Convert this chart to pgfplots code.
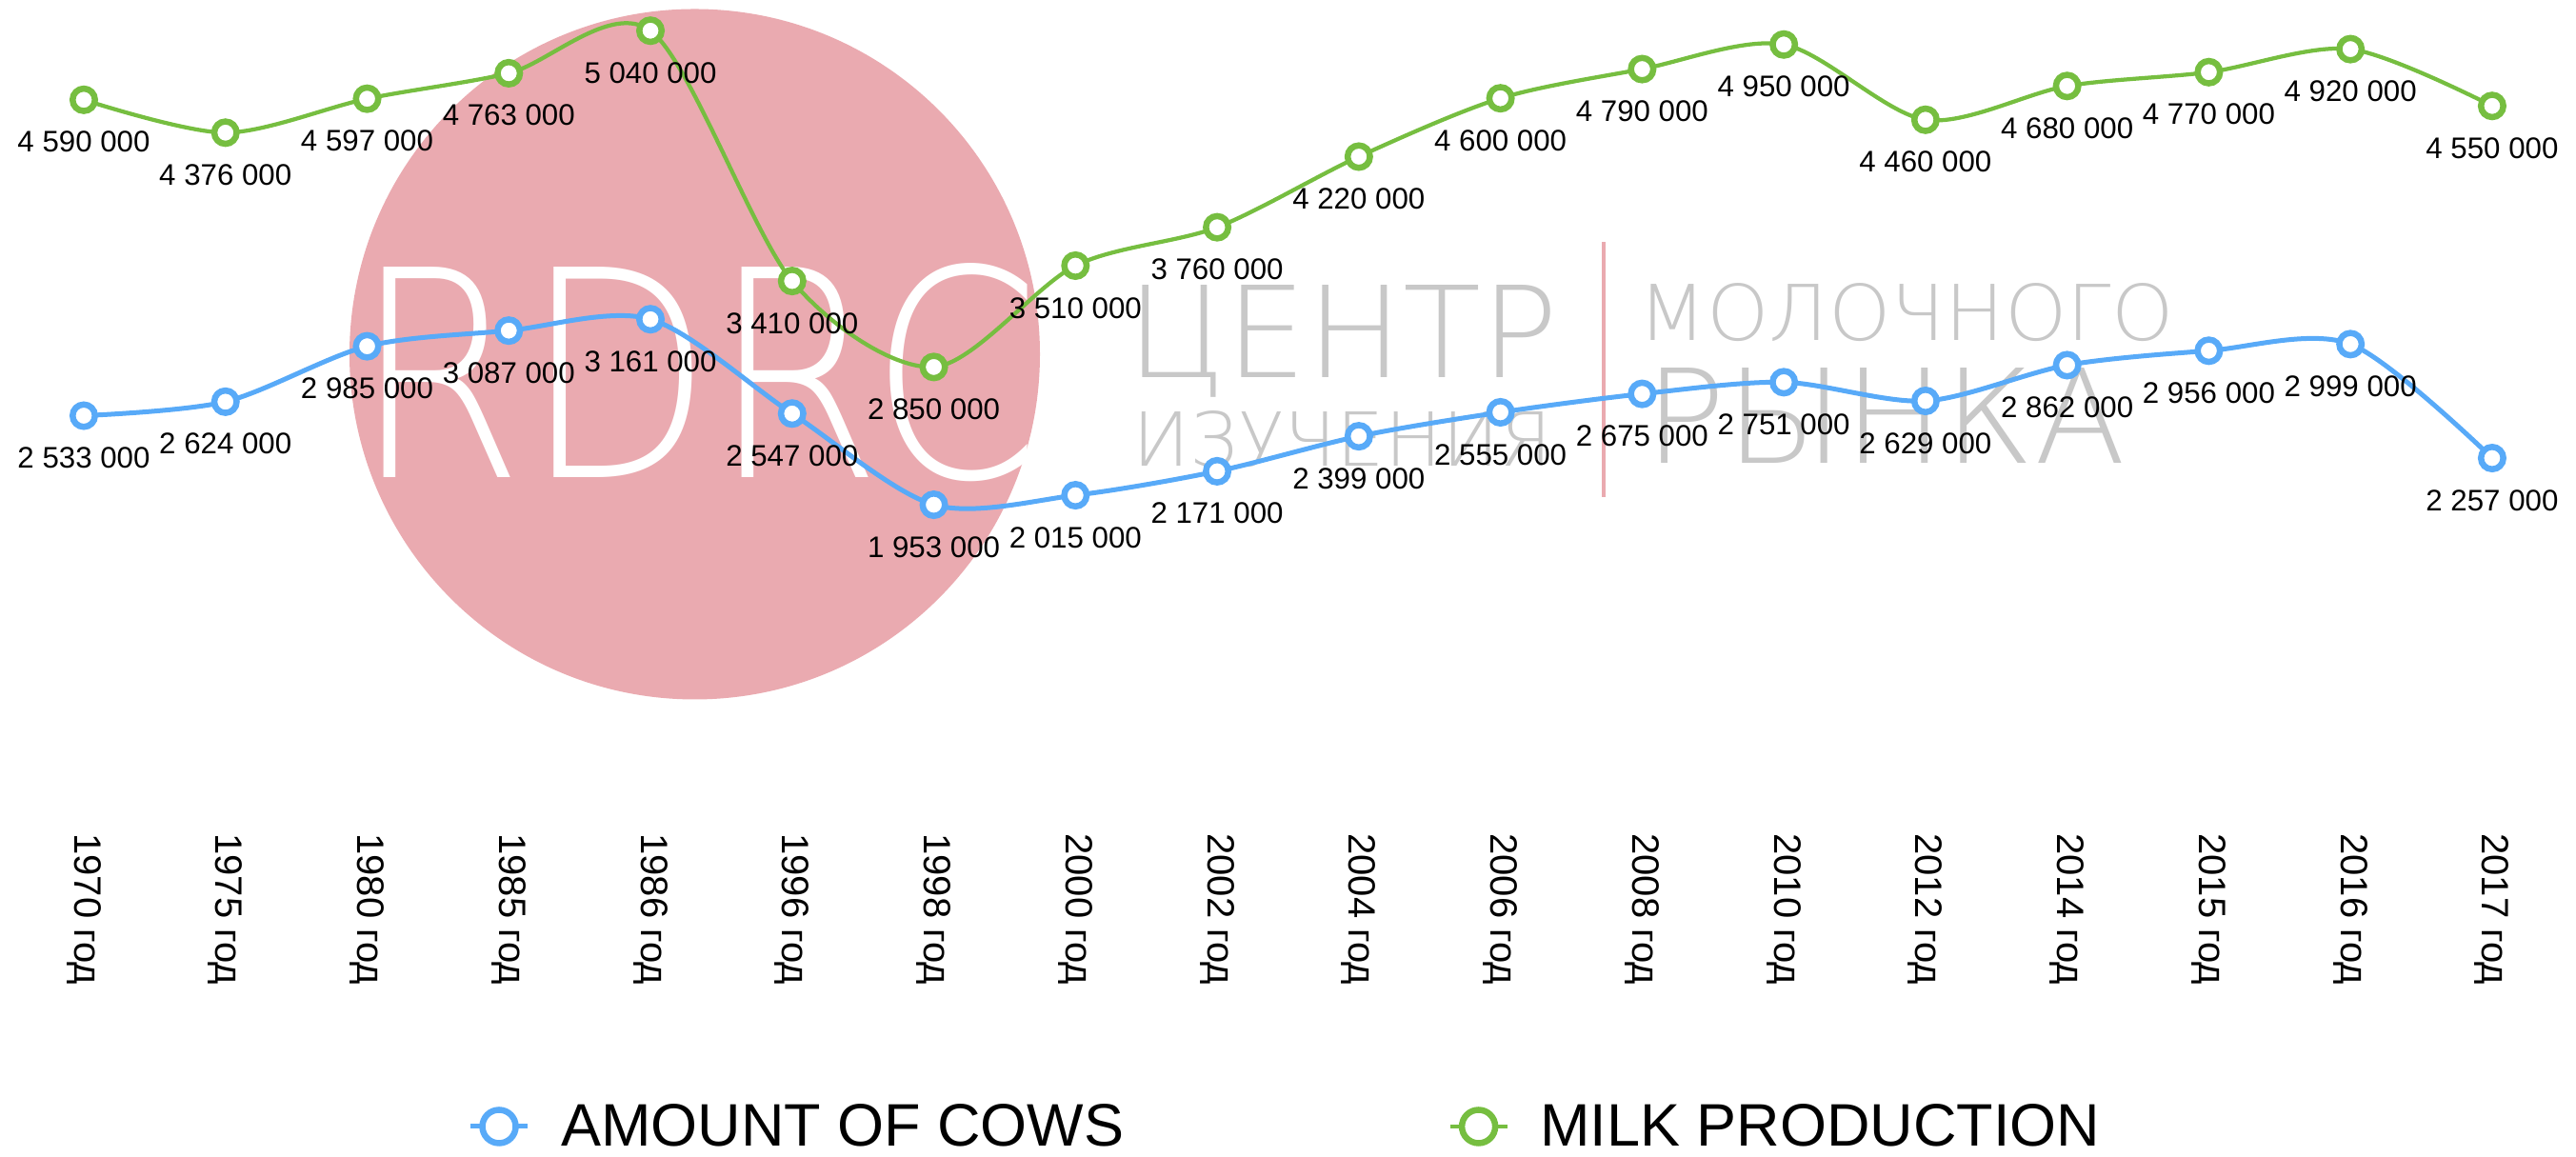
\documentclass[border=0pt]{standalone}
\usepackage{fontspec}
\setmainfont{Liberation Sans}
\IfFontExistsTF{DejaVuSans-ExtraLight.ttf}{\newfontfamily\thinfont{DejaVuSans-ExtraLight.ttf}}{\newfontfamily\thinfont{Liberation Sans}}
\usepackage{graphicx}
\usepackage{pgfplots}
\usepackage{pgfplotstable}
\pgfplotsset{compat=1.18}
\definecolor{cowblue}{HTML}{58AAF8}
\definecolor{milkgreen}{HTML}{76BE40}
\definecolor{wmpink}{HTML}{EAAAB0}
\definecolor{wmgray}{HTML}{C8C8C8}

\pgfplotstableread{
x cows milk
0 2533000 4590000
1 2624000 4376000
2 2985000 4597000
3 3087000 4763000
4 3161000 5040000
5 2547000 3410000
6 1953000 2850000
7 2015000 3510000
8 2171000 3760000
9 2399000 4220000
10 2555000 4600000
11 2675000 4790000
12 2751000 4950000
13 2629000 4460000
14 2862000 4680000
15 2956000 4770000
16 2999000 4920000
17 2257000 4550000
}\data

\begin{document}
\begin{tikzpicture}
\useasboundingbox (0,0) rectangle (1082pt,486pt);
% watermark
\fill[wmpink] (291.8pt,337.2pt) circle (145pt);
\node[anchor=base west, inner sep=0pt, text=white] at (148.4pt,285.2pt) {\resizebox{288.4pt}{90pt}{\thinfont RDRC}};
\node[anchor=base west, inner sep=0pt, text=wmgray] at (473.2pt,327.2pt) {\resizebox{181.2pt}{38.8pt}{\thinfont ЦЕНТР}};
\node[anchor=base west, inner sep=0pt, text=wmgray] at (475.6pt,290pt) {\resizebox{176pt}{23.2pt}{\thinfont ИЗУЧЕНИЯ}};
\node[anchor=base west, inner sep=0pt, text=wmgray] at (688pt,342.8pt) {\resizebox{224.8pt}{24pt}{\thinfont МОЛОЧНОГО}};
\node[anchor=base west, inner sep=0pt, text=wmgray] at (690.8pt,291.2pt) {\resizebox{202pt}{40pt}{\thinfont РЫНКА}};
\draw[wmpink, line width=1.6pt] (673.6pt,277.2pt) -- (673.6pt,384.2pt);

\begin{axis}[
  at={(5.44pt,148pt)}, anchor=south west,
  scale only axis, width=1071.1pt, height=338pt,
  xmin=-0.5, xmax=17.5, ymin=0, ymax=5240000,
  clip=false,
  axis line style={draw=none}, tick style={draw=none}, major tick length=0pt,
  ytick=\empty,
  xtick={0,...,17},
  xticklabels={1970 год,1975 год,1980 год,1985 год,1986 год,1996 год,1998 год,2000 год,2002 год,2004 год,2006 год,2008 год,2010 год,2012 год,2014 год,2015 год,2016 год,2017 год},
  xticklabel style={font=\fontsize{16}{16}\selectfont, rotate=-90, anchor=west, inner sep=0pt},
  xticklabel shift=12pt,
  point meta=rawy,
  nodes near coords={\fontsize{12.5}{12.5}\selectfont\pgfmathprintnumber[fixed,precision=0,1000 sep={\ },assume math mode=true]{\pgfplotspointmeta}},
  nodes near coords align={below},
  every node near coord/.append style={text=black, anchor=north, yshift=-12pt, inner sep=0pt},
  legend columns=2,
  legend style={draw=none, fill=none, at={(0.1783,-0.4)}, anchor=west,
    font=\fontsize{25.2}{25.2}\selectfont, inner sep=0pt,
    /tikz/every odd column/.append style={column sep=11pt},
    /tikz/every even column/.append style={column sep=134pt}},
  legend image code/.code={\draw[mark repeat=2, mark phase=2, #1, mark size=7pt] plot coordinates {(0pt,0pt) (12pt,0pt) (24pt,0pt)};},
]
\addplot[cowblue, line width=2pt, smooth, mark=*, mark size=4.7pt,
  mark options={fill=white, draw=cowblue, line width=2.6pt, solid}]
  table[x=x, y=cows] {\data};
\addlegendentry{AMOUNT OF COWS}
\addplot[milkgreen, line width=1.7pt, smooth, mark=*, mark size=4.7pt,
  mark options={fill=white, draw=milkgreen, line width=2.6pt, solid}]
  table[x=x, y=milk] {\data};
\addlegendentry{MILK PRODUCTION}
\end{axis}
\end{tikzpicture}
\end{document}
